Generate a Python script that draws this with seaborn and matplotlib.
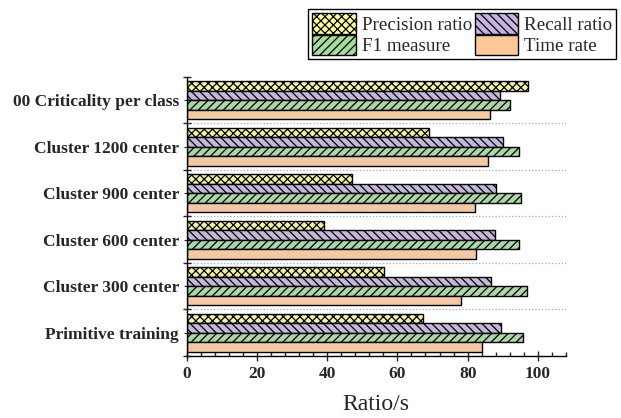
import matplotlib
matplotlib.use("Agg")
import matplotlib.pyplot as plt
import seaborn as sns
import pandas as pd
from matplotlib.patches import Patch
from matplotlib.ticker import MultipleLocator, FixedLocator

categories = ["00 Criticality per class", "Cluster 1200 center", "Cluster 900 center",
              "Cluster 600 center", "Cluster 300 center", "Primitive training"]
metrics = ["Precision ratio", "Recall ratio", "F1 measure", "Time rate"]
precision = [97.3, 69.1, 47.1, 39.0, 56.2, 67.3]
recall = [89.2, 90.1, 88.2, 87.9, 86.6, 89.6]
f1 = [92.2, 94.5, 95.2, 94.5, 96.9, 95.9]
time_rate = [86.5, 85.9, 82.2, 82.4, 78.2, 84.0]

colors = ["#FFFF99", "#C3B3DE", "#A6DCA0", "#FFC898"]
hatches = ["xxxx", "\\\\\\\\", "////", ""]

rows = []
for m, vals in zip(metrics, [precision, recall, f1, time_rate]):
    for c, v in zip(categories, vals):
        rows.append({"Method": c, "Metric": m, "Value": v})
df = pd.DataFrame(rows)

sns.set_style("ticks")
plt.rcParams["font.family"] = ["Liberation Serif", "DejaVu Serif"]
plt.rcParams["hatch.linewidth"] = 0.9

fig = plt.figure(figsize=(6.21, 4.18), dpi=100)
ax = fig.add_axes([0.3006, 0.1483, 0.6108, 0.668])

sns.barplot(data=df, y="Method", x="Value", hue="Metric", order=categories,
            hue_order=metrics, orient="h", palette=colors, width=0.82,
            edgecolor="black", linewidth=1.0, ax=ax, legend=False)

for cont, h in zip(ax.containers, hatches):
    for bar in cont:
        bar.set_hatch(h)

for yb in [0.5, 1.5, 2.5, 3.5, 4.5]:
    ax.axhline(yb, color="#aaaaaa", linestyle=":", linewidth=0.9, zorder=0)

ax.set_xlim(0, 108)
ax.set_ylim(5.5, -0.5)
ax.xaxis.set_major_locator(MultipleLocator(20))
ax.xaxis.set_minor_locator(MultipleLocator(4))
ax.yaxis.set_minor_locator(FixedLocator([-0.5, 0.5, 1.5, 2.5, 3.5, 4.5, 5.5]))
ax.tick_params(axis="x", which="major", direction="inout", length=7, width=1)
ax.tick_params(axis="x", which="minor", direction="in", length=3, width=1)
ax.tick_params(axis="y", which="major", direction="out", length=2, width=0.8)
ax.tick_params(axis="y", which="minor", direction="inout", length=6, width=1)

sns.despine(ax=ax)
for s in ["left", "bottom"]:
    ax.spines[s].set_linewidth(1.0)
    ax.spines[s].set_color("black")

ax.set_ylabel("")
ax.set_xlabel("Ratio/s", fontsize=17, labelpad=9)
for lab in ax.get_xticklabels():
    lab.set_fontweight("bold")
    lab.set_fontsize(12.5)
for lab in ax.get_yticklabels():
    lab.set_fontweight("bold")
    lab.set_fontsize(12.5)

handles = [Patch(facecolor=colors[i], edgecolor="black", hatch=hatches[i], label=metrics[i])
           for i in [0, 2, 1, 3]]
leg = fig.legend(handles=handles, ncol=2, loc="upper right", bbox_to_anchor=(0.992, 0.978),
                 fontsize=13.7, frameon=True, fancybox=False, edgecolor="black",
                 framealpha=1, handlelength=2.3, handleheight=1.3, handletextpad=0.3,
                 columnspacing=0.15, labelspacing=0.05, borderpad=0.2, borderaxespad=0)
leg.get_frame().set_linewidth(1.0)

fig.savefig("out.png", dpi=100)
